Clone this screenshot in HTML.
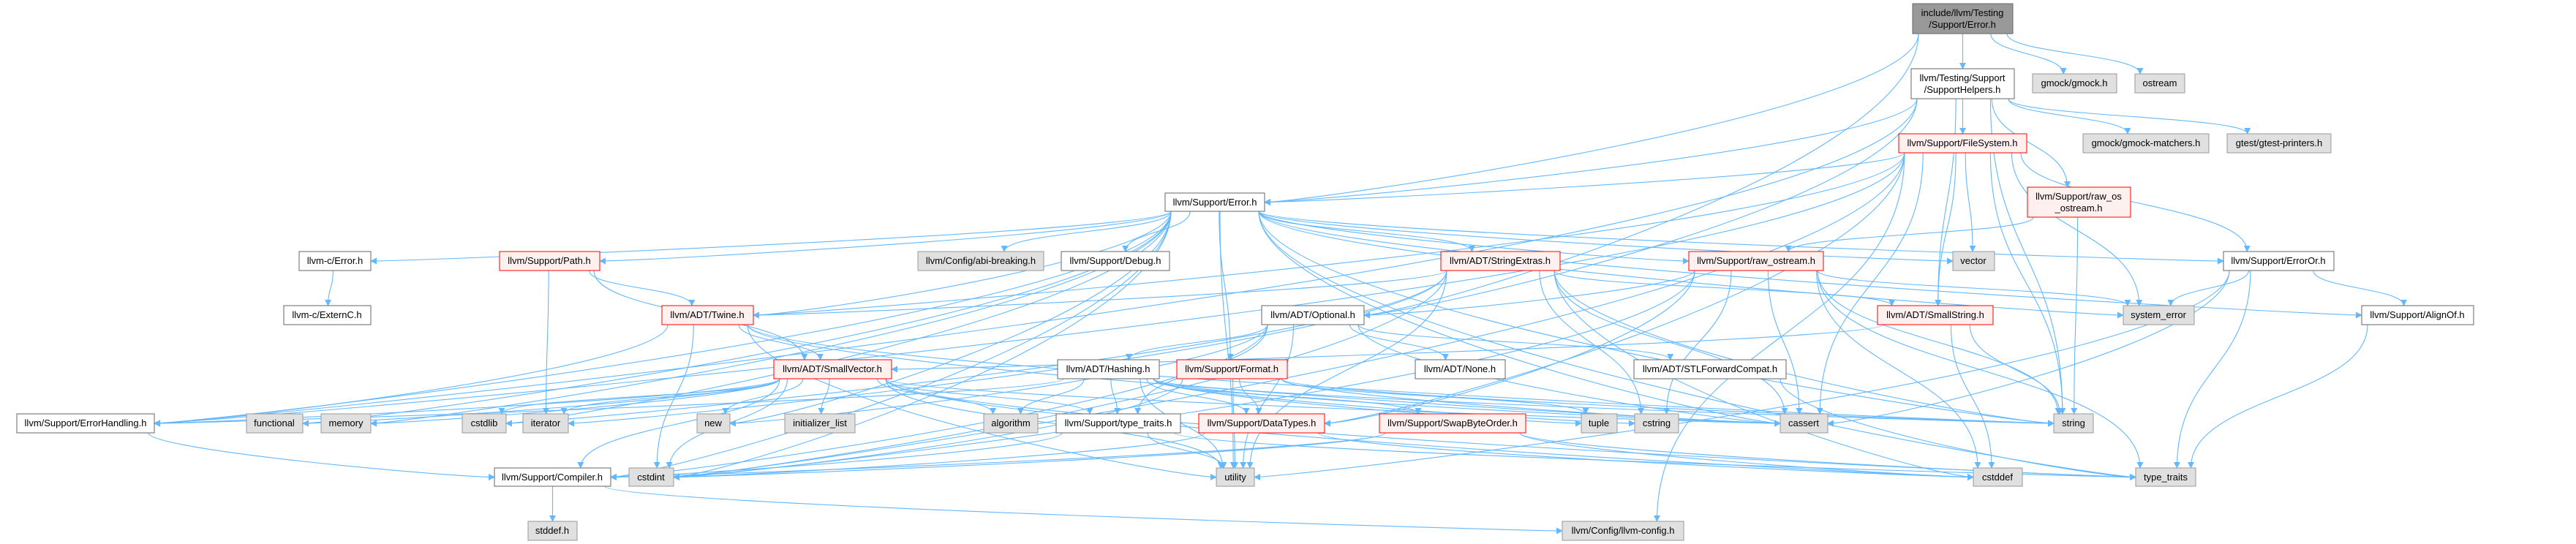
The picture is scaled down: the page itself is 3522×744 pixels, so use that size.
<!DOCTYPE html>
<html><head><meta charset="utf-8"><style>
html,body{margin:0;padding:0;background:#fff;}
svg{display:block;}
text{font-family:"Liberation Sans",Arial,sans-serif;font-size:13px;fill:#000;}
</style></head><body>
<svg id="g" width="3522" height="744" viewBox="0 0 3522 744" xmlns="http://www.w3.org/2000/svg">
<defs><marker id="ah" viewBox="0 0 10 10" refX="9" refY="5" markerWidth="9" markerHeight="9" markerUnits="userSpaceOnUse" orient="auto"><path d="M0,0 L10,5 L0,10 z" fill="#63b8ff"/></marker></defs>
<g id="edges" fill="none" stroke="#63b8ff" stroke-width="1.1"></g>
<g id="nodes">
<rect x="2615" y="5" width="137" height="41" fill="#999" stroke="#666"/><text x="2683" y="22" text-anchor="middle">include/llvm/Testing</text><text x="2683" y="38" text-anchor="middle">/Support/Error.h</text>
<rect x="2613" y="94" width="141" height="41" fill="#fff" stroke="#666"/><text x="2683" y="111" text-anchor="middle">llvm/Testing/Support</text><text x="2683" y="127" text-anchor="middle">/SupportHelpers.h</text>
<rect x="2779" y="101" width="115" height="26" fill="#e0e0e0" stroke="#999"/><text x="2836" y="118" text-anchor="middle">gmock/gmock.h</text>
<rect x="2919" y="101" width="68" height="26" fill="#e0e0e0" stroke="#999"/><text x="2953" y="118" text-anchor="middle">ostream</text>
<rect x="2596" y="183" width="175" height="26" fill="#fff0f0" stroke="#f00"/><text x="2683" y="200" text-anchor="middle">llvm/Support/FileSystem.h</text>
<rect x="2848" y="183" width="172" height="26" fill="#e0e0e0" stroke="#999"/><text x="2934" y="200" text-anchor="middle">gmock/gmock-matchers.h</text>
<rect x="3045" y="183" width="142" height="26" fill="#e0e0e0" stroke="#999"/><text x="3116" y="200" text-anchor="middle">gtest/gtest-printers.h</text>
<rect x="1593" y="264" width="136" height="25" fill="#fff" stroke="#666"/><text x="1661" y="281" text-anchor="middle">llvm/Support/Error.h</text>
<rect x="2772" y="256" width="141" height="41" fill="#fff0f0" stroke="#f00"/><text x="2842" y="273" text-anchor="middle">llvm/Support/raw_os</text><text x="2842" y="289" text-anchor="middle">_ostream.h</text>
<rect x="409" y="344" width="98" height="26" fill="#fff" stroke="#666"/><text x="458" y="361" text-anchor="middle">llvm-c/Error.h</text>
<rect x="683" y="344" width="137" height="26" fill="#fff0f0" stroke="#f00"/><text x="751" y="361" text-anchor="middle">llvm/Support/Path.h</text>
<rect x="1255" y="344" width="172" height="26" fill="#e0e0e0" stroke="#999"/><text x="1341" y="361" text-anchor="middle">llvm/Config/abi-breaking.h</text>
<rect x="1451" y="344" width="148" height="26" fill="#fff" stroke="#666"/><text x="1525" y="361" text-anchor="middle">llvm/Support/Debug.h</text>
<rect x="1970" y="344" width="163" height="26" fill="#fff0f0" stroke="#f00"/><text x="2051" y="361" text-anchor="middle">llvm/ADT/StringExtras.h</text>
<rect x="2309" y="344" width="184" height="26" fill="#fff0f0" stroke="#f00"/><text x="2401" y="361" text-anchor="middle">llvm/Support/raw_ostream.h</text>
<rect x="2670" y="344" width="57" height="26" fill="#e0e0e0" stroke="#999"/><text x="2698" y="361" text-anchor="middle">vector</text>
<rect x="3040" y="344" width="151" height="26" fill="#fff" stroke="#666"/><text x="3115" y="361" text-anchor="middle">llvm/Support/ErrorOr.h</text>
<rect x="388" y="418" width="119" height="26" fill="#fff" stroke="#666"/><text x="447" y="435" text-anchor="middle">llvm-c/ExternC.h</text>
<rect x="905" y="418" width="125" height="26" fill="#fff0f0" stroke="#f00"/><text x="967" y="435" text-anchor="middle">llvm/ADT/Twine.h</text>
<rect x="1725" y="418" width="140" height="26" fill="#fff" stroke="#666"/><text x="1795" y="435" text-anchor="middle">llvm/ADT/Optional.h</text>
<rect x="2567" y="418" width="158" height="26" fill="#fff0f0" stroke="#f00"/><text x="2646" y="435" text-anchor="middle">llvm/ADT/SmallString.h</text>
<rect x="2903" y="418" width="97" height="26" fill="#e0e0e0" stroke="#999"/><text x="2951" y="435" text-anchor="middle">system_error</text>
<rect x="3229" y="418" width="153" height="26" fill="#fff" stroke="#666"/><text x="3305" y="435" text-anchor="middle">llvm/Support/AlignOf.h</text>
<rect x="1058" y="492" width="161" height="26" fill="#fff0f0" stroke="#f00"/><text x="1138" y="509" text-anchor="middle">llvm/ADT/SmallVector.h</text>
<rect x="1446" y="492" width="139" height="26" fill="#fff" stroke="#666"/><text x="1515" y="509" text-anchor="middle">llvm/ADT/Hashing.h</text>
<rect x="1609" y="492" width="151" height="26" fill="#fff0f0" stroke="#f00"/><text x="1684" y="509" text-anchor="middle">llvm/Support/Format.h</text>
<rect x="1935" y="492" width="123" height="26" fill="#fff" stroke="#666"/><text x="1996" y="509" text-anchor="middle">llvm/ADT/None.h</text>
<rect x="2234" y="492" width="208" height="26" fill="#fff" stroke="#666"/><text x="2338" y="509" text-anchor="middle">llvm/ADT/STLForwardCompat.h</text>
<rect x="23" y="566" width="188" height="26" fill="#fff" stroke="#666"/><text x="117" y="583" text-anchor="middle">llvm/Support/ErrorHandling.h</text>
<rect x="337" y="566" width="77" height="26" fill="#e0e0e0" stroke="#999"/><text x="375" y="583" text-anchor="middle">functional</text>
<rect x="439" y="566" width="68" height="26" fill="#e0e0e0" stroke="#999"/><text x="473" y="583" text-anchor="middle">memory</text>
<rect x="632" y="566" width="60" height="26" fill="#e0e0e0" stroke="#999"/><text x="662" y="583" text-anchor="middle">cstdlib</text>
<rect x="715" y="566" width="62" height="26" fill="#e0e0e0" stroke="#999"/><text x="746" y="583" text-anchor="middle">iterator</text>
<rect x="953" y="566" width="45" height="26" fill="#e0e0e0" stroke="#999"/><text x="975" y="583" text-anchor="middle">new</text>
<rect x="1073" y="566" width="96" height="26" fill="#e0e0e0" stroke="#999"/><text x="1121" y="583" text-anchor="middle">initializer_list</text>
<rect x="1345" y="566" width="74" height="26" fill="#e0e0e0" stroke="#999"/><text x="1382" y="583" text-anchor="middle">algorithm</text>
<rect x="1444" y="566" width="170" height="26" fill="#fff" stroke="#666"/><text x="1529" y="583" text-anchor="middle">llvm/Support/type_traits.h</text>
<rect x="1639" y="566" width="172" height="26" fill="#fff0f0" stroke="#f00"/><text x="1725" y="583" text-anchor="middle">llvm/Support/DataTypes.h</text>
<rect x="1886" y="566" width="200" height="26" fill="#fff0f0" stroke="#f00"/><text x="1986" y="583" text-anchor="middle">llvm/Support/SwapByteOrder.h</text>
<rect x="2162" y="566" width="49" height="26" fill="#e0e0e0" stroke="#999"/><text x="2186" y="583" text-anchor="middle">tuple</text>
<rect x="2235" y="566" width="60" height="26" fill="#e0e0e0" stroke="#999"/><text x="2265" y="583" text-anchor="middle">cstring</text>
<rect x="2434" y="566" width="65" height="26" fill="#e0e0e0" stroke="#999"/><text x="2466" y="583" text-anchor="middle">cassert</text>
<rect x="2808" y="566" width="54" height="26" fill="#e0e0e0" stroke="#999"/><text x="2835" y="583" text-anchor="middle">string</text>
<rect x="676" y="640" width="159" height="25" fill="#fff" stroke="#666"/><text x="755" y="657" text-anchor="middle">llvm/Support/Compiler.h</text>
<rect x="860" y="640" width="61" height="25" fill="#e0e0e0" stroke="#999"/><text x="890" y="657" text-anchor="middle">cstdint</text>
<rect x="1663" y="640" width="52" height="25" fill="#e0e0e0" stroke="#999"/><text x="1689" y="657" text-anchor="middle">utility</text>
<rect x="2698" y="640" width="67" height="25" fill="#e0e0e0" stroke="#999"/><text x="2731" y="657" text-anchor="middle">cstddef</text>
<rect x="2920" y="640" width="82" height="25" fill="#e0e0e0" stroke="#999"/><text x="2961" y="657" text-anchor="middle">type_traits</text>
<rect x="722" y="713" width="67" height="26" fill="#e0e0e0" stroke="#999"/><text x="755" y="730" text-anchor="middle">stddef.h</text>
<rect x="2136" y="713" width="166" height="26" fill="#e0e0e0" stroke="#999"/><text x="2219" y="730" text-anchor="middle">llvm/Config/llvm-config.h</text>
</g>
</svg>
<script>
var N={M:[2615,5,2752,46],SH:[2613,94,2754,135],GM:[2779,101,2894,127],OS:[2919,101,2987,127],FS:[2596,183,2771,209],GMM:[2848,183,3020,209],GTP:[3045,183,3187,209],E:[1593,264,1729,289],ROO:[2772,256,2913,297],CE:[409,344,507,370],P:[683,344,820,370],ABI:[1255,344,1427,370],DBG:[1451,344,1599,370],SE:[1970,344,2133,370],RO:[2309,344,2493,370],VEC:[2670,344,2727,370],EO:[3040,344,3191,370],EXC:[388,418,507,444],TW:[905,418,1030,444],OPT:[1725,418,1865,444],SS:[2567,418,2725,444],SYS:[2903,418,3000,444],AL:[3229,418,3382,444],SV:[1058,492,1219,518],HS:[1446,492,1585,518],FMT:[1609,492,1760,518],NONE:[1935,492,2058,518],STL:[2234,492,2442,518],EH:[23,566,211,592],FUN:[337,566,414,592],MEM:[439,566,507,592],CSL:[632,566,692,592],IT:[715,566,777,592],NEW:[953,566,998,592],IL:[1073,566,1169,592],ALG:[1345,566,1419,592],TTH:[1444,566,1614,592],DT:[1639,566,1811,592],SBO:[1886,566,2086,592],TUP:[2162,566,2211,592],CSTR:[2235,566,2295,592],CAS:[2434,566,2499,592],STR:[2808,566,2862,592],CMP:[676,640,835,665],CI:[860,640,921,665],UT:[1663,640,1715,665],CDD:[2698,640,2765,665],TT:[2920,640,3002,665],STD:[722,713,789,739],CFG:[2136,713,2302,739]};
var E={M:"SH GM OS E OPT",SH:"FS E OPT SS ROO GMM GTP STR EH",FS:"E EH TW SS EO SYS VEC STR CAS CI DT CFG",E:"CE ABI DBG SE TW CMP EH EO FMT RO AL CAS CI CSL FUN MEM NEW STR SYS TT UT VEC P",ROO:"RO STR",CE:"EXC",P:"TW SV IT",SE:"TW SS CAS CDD CI CSL CSTR IT STR UT",RO:"OPT DT CAS CDD CI CSTR STR SYS TT",EO:"AL SYS TT UT CAS",TW:"SV EH CAS CI STR UT",OPT:"HS NONE STL CMP TTH CAS NEW UT",SS:"SV STR CDD",AL:"TT",SV:"EH CMP TTH ALG CAS CDD CI CSL FUN IL IT MEM NEW TT UT",HS:"DT EH SBO TTH ALG CAS CSTR STR TUP UT",FMT:"DT CAS CI STR TUP UT",STL:"TT",EH:"CMP",TTH:"CMP TT UT",DT:"CI CDD",SBO:"CMP CDD CI TT",CMP:"STD CFG"};
var g=document.getElementById('edges'),s="";
for(var a in E){E[a].split(' ').forEach(function(b){var A=N[a],B=N[b];
var acx=(A[0]+A[2])/2,bcx=(B[0]+B[2])/2;var d;
if(B[1]>=A[3]){var sx=Math.max(A[0]+8,Math.min(A[2]-8,acx+(bcx-acx)*0.25));var sy=A[3],tx=Math.max(B[0]+6,Math.min(B[2]-6,bcx+(acx-bcx)*0.1)),ty=B[1];var dy=(ty-sy)*0.5;
if(Math.abs(bcx-acx)>600){tx=bcx<acx?B[2]:B[0];ty=(B[1]+B[3])/2;d="M"+sx+","+sy+" C"+sx+","+(sy+dy)+" "+(tx+(bcx<acx?60:-60))+","+ty+" "+tx+","+ty;}
else d="M"+sx+","+sy+" C"+sx+","+(sy+dy)+" "+tx+","+(ty-dy)+" "+tx+","+ty;}
else{var sx=bcx<acx?A[0]:A[2],sy=(A[1]+A[3])/2,tx=bcx<acx?B[2]:B[0],ty=(B[1]+B[3])/2;d="M"+sx+","+sy+" C"+((sx+tx)/2)+","+sy+" "+((sx+tx)/2)+","+ty+" "+tx+","+ty;}
s+='<path d="'+d+'" marker-end="url(#ah)"/>';});}
g.innerHTML=s;
</script>
</body></html>
